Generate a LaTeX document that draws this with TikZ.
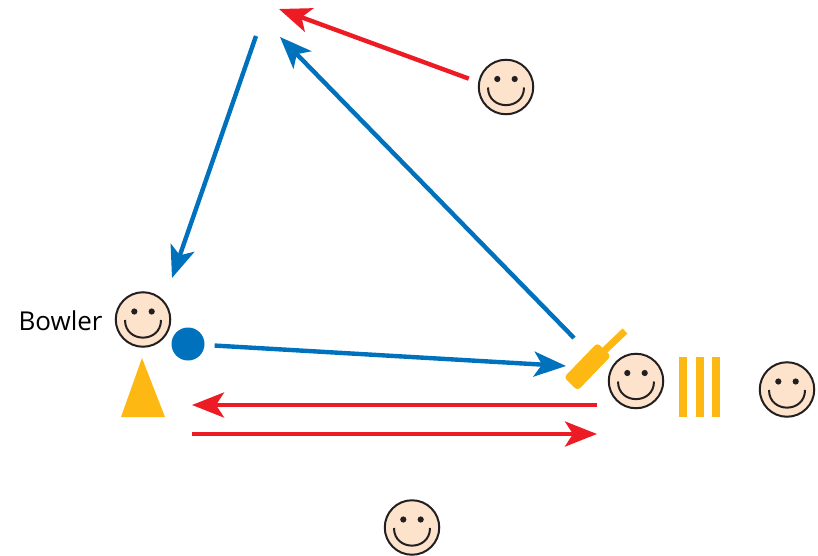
\documentclass[tikz,border=0pt]{standalone}
\usepackage{fontspec}
\setmainfont{Open Sans}
\usetikzlibrary{arrows.meta,positioning}

\definecolor{facefill}{HTML}{FDE3CB}
\definecolor{faceline}{HTML}{231F20}
\definecolor{gearcol}{HTML}{FDB813}
\definecolor{bluecol}{HTML}{0071BC}
\definecolor{redcol}{HTML}{ED1C24}

\tikzset{
  face/.style={circle,draw=faceline,fill=facefill,line width=2pt,minimum size=54.5pt,inner sep=0pt,
    path picture={
      \begin{scope}[shift={(path picture bounding box.center)}]
        \fill[faceline] (-8.7,-8) circle (3.1pt) (8.7,-8) circle (3.1pt);
        \draw[faceline,line width=2pt] (-18,0.5) .. controls (-18,24) and (18,24) .. (18,0.5);
      \end{scope}}},
  ball/.style={circle,fill=bluecol,minimum size=33pt,inner sep=0pt},
  blade/.style={rectangle,fill=gearcol,rounded corners=3.5pt,minimum width=48pt,minimum height=19pt,inner sep=0pt,rotate=46},
  run/.style={-{Stealth[length=32pt,width=25pt,inset=8pt]},line width=4.4pt},
  bluerun/.style={run,draw=bluecol,fill=bluecol},
  redrun/.style={run,draw=redcol,fill=redcol},
}

\begin{document}
\begin{tikzpicture}[x=1pt,y=-1pt]
  \useasboundingbox (0,0) rectangle (818,556);

  \node[face]  (bowler)  at (143,319.5) {};
  \node[face]  (fielder) at (506,87)  {};
  \node[face]  (batter)  at (636,381) {};
  \node[face]  (keeper)  at (787,389.5) {};
  \node[face]  (umpire)  at (412,527.5) {};
  \node[ball]  (delivery) at (188,344) {};
  \node[font=\fontsize{26}{30}\selectfont,inner sep=0pt,yshift=-1pt] (bowlerlabel) [left=12pt of bowler] {Bowler};

  \fill[gearcol] (142,358) -- (165,417) -- (121,417) -- cycle;
  \foreach \stump in {679,696,712}
    \fill[gearcol] (\stump,357) rectangle (\stump+8,417);

  \coordinate (batend)   at (625,331);
  \node[blade] (bat) at (587.5,366.7) {};
  \draw[gearcol,line width=7pt] (bat.center) -- (batend);

  \coordinate (hitstart) at (574,338);
  \coordinate (hitend)   at (280,37);
  \coordinate (throwstart) at (256,36);
  \coordinate (throwend) at (172,278);
  \coordinate (balltip)  at (566,366);
  \coordinate (chasetip) at (279,9);
  \coordinate (backstart) at (597,405);
  \coordinate (backend)  at (192,405);
  \coordinate (runstart) at (192,434);
  \coordinate (runend)   at (597,434);

  \path (delivery)   edge [bluerun,shorten <=10pt] (balltip)
        (hitstart)   edge [bluerun] (hitend)
        (throwstart) edge [bluerun] (throwend);
  \path (fielder.170) edge [redrun,shorten <=10pt] (chasetip)
        (backstart)  edge [redrun] (backend)
        (runstart)   edge [redrun] (runend);
\end{tikzpicture}
\end{document}
